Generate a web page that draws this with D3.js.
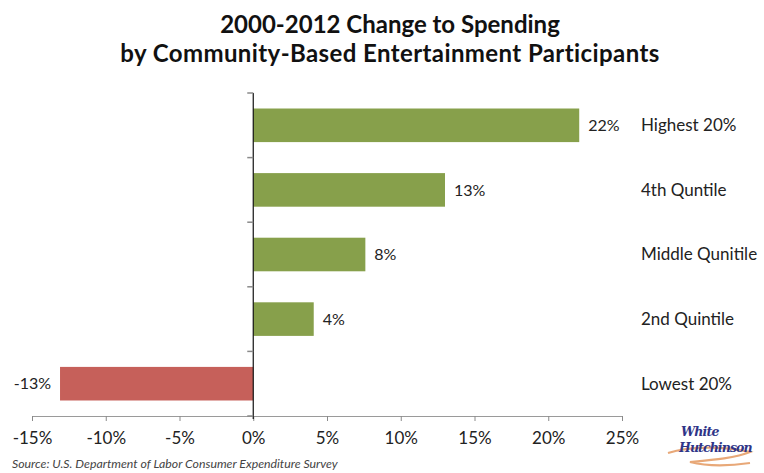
<!DOCTYPE html>
<html>
<head>
<meta charset="utf-8">
<script src="https://cdn.jsdelivr.net/npm/d3@7/dist/d3.min.js"></script>
<style>
  html, body { margin: 0; padding: 0; background: #fff; }
  svg { display: block; font-family: Lato, "Open Sans", sans-serif; }
</style>
</head>
<body>
<svg id="chart" width="764" height="473"></svg>
<script>
// ---- data ----
const categories = ["Highest 20%", "4th Quntile", "Middle Qunitile", "2nd Quintile", "Lowest 20%"];
const values = [22.1, 13.0, 7.6, 4.1, -13.1];
const valueLabels = ["22%", "13%", "8%", "4%", "-13%"];
const xTicks = [-15, -10, -5, 0, 5, 10, 15, 20, 25];
const xTickLabels = ["-15%", "-10%", "-5%", "0%", "5%", "10%", "15%", "20%", "25%"];
const titleLines = ["2000-2012 Change to Spending", "by Community-Based Entertainment Participants"];
const sourceText = "Source: U.S. Department of Labor Consumer Expenditure Survey";

const svg = d3.select("#chart");

const x = d3.scaleLinear().domain([-15, 25]).range([32, 622]);
const y = d3.scaleBand().domain(categories).range([93, 416]).paddingInner(0.48).paddingOuter(0.24);

// title
svg.append("g").selectAll("text").data(titleLines).join("text")
  .attr("x", 390).attr("y", (d, i) => 33 + i * 29)
  .attr("text-anchor", "middle")
  .attr("font-size", 24).attr("font-weight", "bold").attr("fill", "#111")
  .attr("letter-spacing", (d, i) => i === 1 ? 0.4 : 0)
  .text(d => d);

// bars
svg.append("g").selectAll("rect").data(values).join("rect")
  .attr("x", d => x(Math.min(0, d)))
  .attr("width", d => Math.abs(x(d) - x(0)))
  .attr("y", (d, i) => y(categories[i]))
  .attr("height", y.bandwidth())
  .attr("fill", d => d >= 0 ? "#87a04b" : "#c6605a");

// value labels
svg.append("g").selectAll("text").data(values).join("text")
  .attr("x", d => d >= 0 ? x(d) + 9 : x(d) - 9)
  .attr("y", (d, i) => y(categories[i]) + y.bandwidth() / 2)
  .attr("dy", "0.35em")
  .attr("text-anchor", d => d >= 0 ? "start" : "end")
  .attr("font-size", 16).attr("fill", "#222")
  .text((d, i) => valueLabels[i]);

// category labels
svg.append("g").selectAll("text").data(categories).join("text")
  .attr("x", 641)
  .attr("y", d => y(d) + y.bandwidth() / 2)
  .attr("dy", "0.35em")
  .attr("font-size", 17).attr("fill", "#222")
  .text(d => d);

// x axis
const xAxis = d3.axisBottom(x).tickValues(xTicks)
  .tickFormat((d, i) => xTickLabels[i]).tickSize(5).tickSizeOuter(0).tickPadding(11);
const gx = svg.append("g").attr("transform", "translate(0,416)").call(xAxis);
gx.select(".domain").attr("stroke", "#9a9a9a");
gx.selectAll(".tick line").attr("stroke", "#8a8a8a");
gx.selectAll(".tick text").attr("font-size", 17).attr("fill", "#222").attr("font-family", "Lato, 'Open Sans', sans-serif");

// y axis (at zero)
const yBounds = categories.map(c => y(c) - y.step() * y.paddingInner() / 2);
yBounds.push(416);
const gy = svg.append("g");
gy.append("line").attr("x1", x(0)).attr("x2", x(0)).attr("y1", 93).attr("y2", 419)
  .attr("stroke", "#111").attr("stroke-width", 1.2);
gy.selectAll("line.t").data(yBounds).join("line").attr("class", "t")
  .attr("x1", x(0) - 6).attr("x2", x(0)).attr("y1", d => d).attr("y2", d => d)
  .attr("stroke", "#8a8a8a").attr("stroke-width", 1.5);

// source
svg.append("text").attr("x", 12).attr("y", 468)
  .attr("font-size", 12.3).attr("font-style", "italic").attr("fill", "#444")
  .text(sourceText);

// logo
const logo = svg.append("g");
logo.append("path")
  .attr("d", "M668,453 C690,446 722,446 750,452 C736,458 712,460 690,462 C702,465 722,467 750,463")
  .attr("fill", "none").attr("stroke", "#e8a878").attr("stroke-width", 2.2);
logo.append("text").attr("x", 681).attr("y", 436)
  .attr("font-size", 12.5).attr("font-style", "italic").attr("font-weight", "bold")
  .attr("fill", "#2f3487").attr("font-family", "'DejaVu Serif', serif").attr("letter-spacing", -0.8)
  .text("White");
logo.append("text").attr("x", 679).attr("y", 452)
  .attr("font-size", 12.5).attr("font-style", "italic").attr("font-weight", "bold")
  .attr("fill", "#2f3487").attr("font-family", "'DejaVu Serif', serif").attr("letter-spacing", -0.9)
  .text("Hutchinson");
</script>
</body>
</html>
